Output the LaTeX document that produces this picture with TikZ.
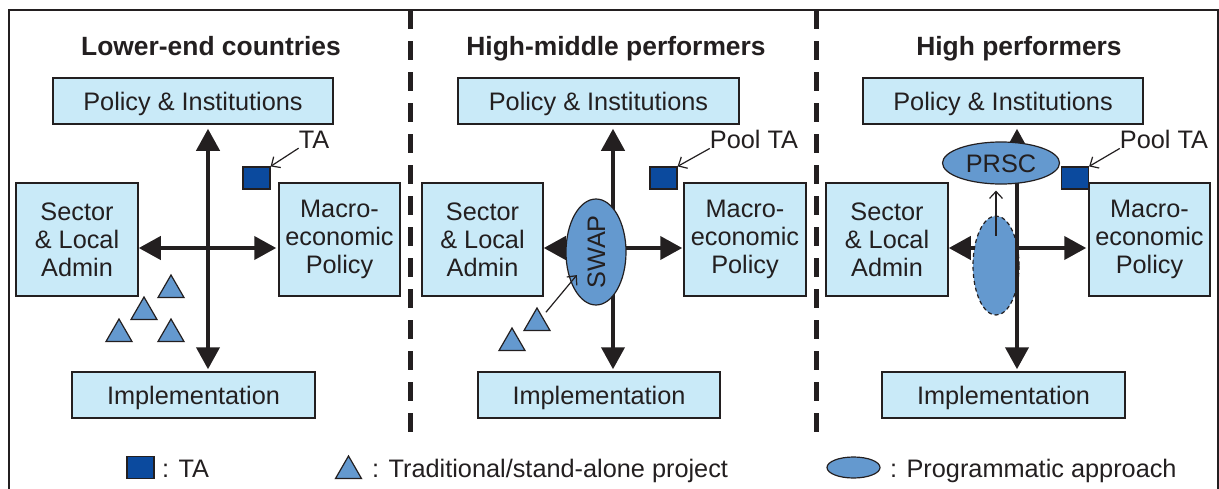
\documentclass[tikz,border=0pt]{standalone}
\usepackage{fontspec}
\setmainfont{Liberation Sans}
\usetikzlibrary{arrows.meta,shapes.geometric,calc}
\definecolor{boxfill}{HTML}{C9EAF8}
\definecolor{ellfill}{HTML}{6499CF}
\definecolor{tafill}{HTML}{0B4A9E}
\definecolor{ink}{HTML}{231F20}
\begin{document}
\begin{tikzpicture}[x=1pt,y=-1pt,
  every node/.style={font=\fontsize{25.3}{28}\selectfont, text=ink},
  boxstyle/.style={draw=ink, line width=1.5pt, fill=boxfill, inner sep=0pt, align=center},
  oneline/.style={text height=18.1pt, text depth=0pt},
  titlestyle/.style={font=\fontsize{26.4}{30}\selectfont\bfseries, anchor=base, inner sep=0pt},
  bigboth/.style={line width=4pt, draw=ink, {Triangle[width=23pt,length=22pt]}-{Triangle[width=23pt,length=22pt]}},
  thinarr/.style={draw=ink, line width=1.2pt, -{Straight Barb[length=7pt,width=13pt]}},
  tasq/.style={draw=ink, line width=1.2pt, fill=tafill, minimum width=27pt, minimum height=22pt, inner sep=0pt},
  tristyle/.style={regular polygon, regular polygon sides=3, draw=ink, line width=1.2pt, fill=ellfill, minimum size=30pt, inner sep=0pt},
  progstyle/.style={ellipse, draw=ink, line width=1.2pt, fill=ellfill, inner sep=0pt},
  sepline/.style={line width=5pt, draw=ink, dash pattern=on 18.5pt off 12.5pt},
  lbl/.style={inner sep=0pt, anchor=base}
]
\useasboundingbox (0,0) rectangle (1219,488);
\clip (0,0) rectangle (1219,488);
\fill[white] (0,0) rectangle (1219,488);
% outer frame
\draw[ink, line width=1.5pt] (9,10) rectangle (1218,620);
% separators
\draw[sepline] (410,10) -- (410,434);
\draw[sepline] (816,10) -- (816,434);

% ---------- Panel 1 ----------
\node[titlestyle] (t1) at (211,55) {Lower-end countries};
\node[boxstyle, oneline, minimum width=280pt, minimum height=46pt] (pol1) at (193,101) {Policy \& Institutions};
\node[boxstyle, minimum width=122pt, minimum height=113pt] (sec1) at (77,239.5) {Sector\\\& Local\\Admin};
\node[boxstyle, minimum width=121pt, minimum height=113pt] (mac1) at (339.5,239.5) {Macro-\\economic\\Policy};
\node[boxstyle, oneline, minimum width=243pt, minimum height=46pt] (imp1) at (193.5,395) {Implementation};
\coordinate (x1) at (208,248);
\draw[bigboth, shorten <=4pt, shorten >=2pt] (x1 |- pol1.south) -- (x1 |- imp1.north);
\draw[bigboth, shorten >=2pt] (sec1.east |- x1) -- (mac1.west |- x1);
\node[tasq] (ta1) at (256.5,178) {};
\node[lbl] (ta1l) at (314,148) {TA};
\draw[thinarr] (ta1l.south west) -- (ta1.north east);
\node[tristyle] (p1a) at (171,290) {};
\node[tristyle] (p1b) at (144,312) {};
\node[tristyle] (p1c) at (119,334) {};
\node[tristyle] (p1d) at (171,334) {};

% ---------- Panel 2 ----------
\node[titlestyle] (t2) at (616,55) {High-middle performers};
\node[boxstyle, oneline, minimum width=281pt, minimum height=46pt] (pol2) at (598.5,101) {Policy \& Institutions};
\node[boxstyle, minimum width=121pt, minimum height=113pt] (sec2) at (482.5,239.5) {Sector\\\& Local\\Admin};
\node[boxstyle, minimum width=122pt, minimum height=113pt] (mac2) at (745,239.5) {Macro-\\economic\\Policy};
\node[boxstyle, oneline, minimum width=242pt, minimum height=46pt] (imp2) at (599,395) {Implementation};
\coordinate (x2) at (613,248);
\draw[bigboth, shorten <=4pt, shorten >=2pt] (x2 |- pol2.south) -- (x2 |- imp2.north);
\draw[bigboth, shorten >=1pt] (sec2.east |- x2) -- (mac2.west |- x2);
\node[progstyle, oneline, rotate=90, minimum width=106pt, minimum height=60pt] (swap) at (596,252) {SWAP};
\node[tasq] (ta2) at (663.5,178) {};
\node[lbl] (ta2l) at (754,148) {Pool TA};
\draw[thinarr] (ta2l.south west) -- (ta2.north east);
\node[tristyle] (p2a) at (537,323) {};
\node[tristyle] (p2b) at (512,343) {};
\draw[thinarr, shorten <=14pt, shorten >=30pt] (p2a.center) -- (swap.center);

% ---------- Panel 3 ----------
\node[titlestyle] (t3) at (1019,55) {High performers};
\node[boxstyle, oneline, minimum width=280pt, minimum height=46pt] (pol3) at (1003,101) {Policy \& Institutions};
\node[boxstyle, minimum width=122pt, minimum height=113pt] (sec3) at (887,239.5) {Sector\\\& Local\\Admin};
\node[boxstyle, minimum width=121pt, minimum height=113pt] (mac3) at (1149.5,239.5) {Macro-\\economic\\Policy};
\node[boxstyle, oneline, minimum width=243pt, minimum height=46pt] (imp3) at (1003.5,395) {Implementation};
\coordinate (x3) at (1017,248);
\draw[bigboth, shorten >=2pt] (sec3.east |- x3) -- (mac3.west |- x3);
\node[progstyle, dash pattern=on 4pt off 3pt, minimum width=46pt, minimum height=99pt] (dash3) at (996,265.5) {};
\draw[bigboth, shorten <=4pt, shorten >=2pt] (x3 |- pol3.south) -- (x3 |- imp3.north);
\node[progstyle, oneline, minimum width=117pt, minimum height=42pt] (prsc) at (1001,163) {PRSC};
\draw[thinarr, shorten >=6pt] ([yshift=30pt]dash3.center) -- (dash3.center |- prsc.south);
\node[tasq] (ta3) at (1075,178) {};
\node[lbl] (ta3l) at (1164,148) {Pool TA};
\draw[thinarr] (ta3l.south west) -- (ta3.north east);

% ---------- Legend ----------
\node[tasq] (lgsq) at (140.5,467.5) {};
\node[inner sep=0pt, anchor=base west] (lgsqt) at (162,477) {: TA};
\node[tristyle] (lgtri) at (348.5,471) {};
\node[inner sep=0pt, anchor=base west] (lgtrit) at (372,477) {: Traditional/stand-alone project};
\node[progstyle, minimum width=53pt, minimum height=21pt] (lgell) at (853.5,467.5) {};
\node[inner sep=0pt, anchor=base west] (lgellt) at (890,477) {: Programmatic approach};
\end{tikzpicture}
\end{document}
